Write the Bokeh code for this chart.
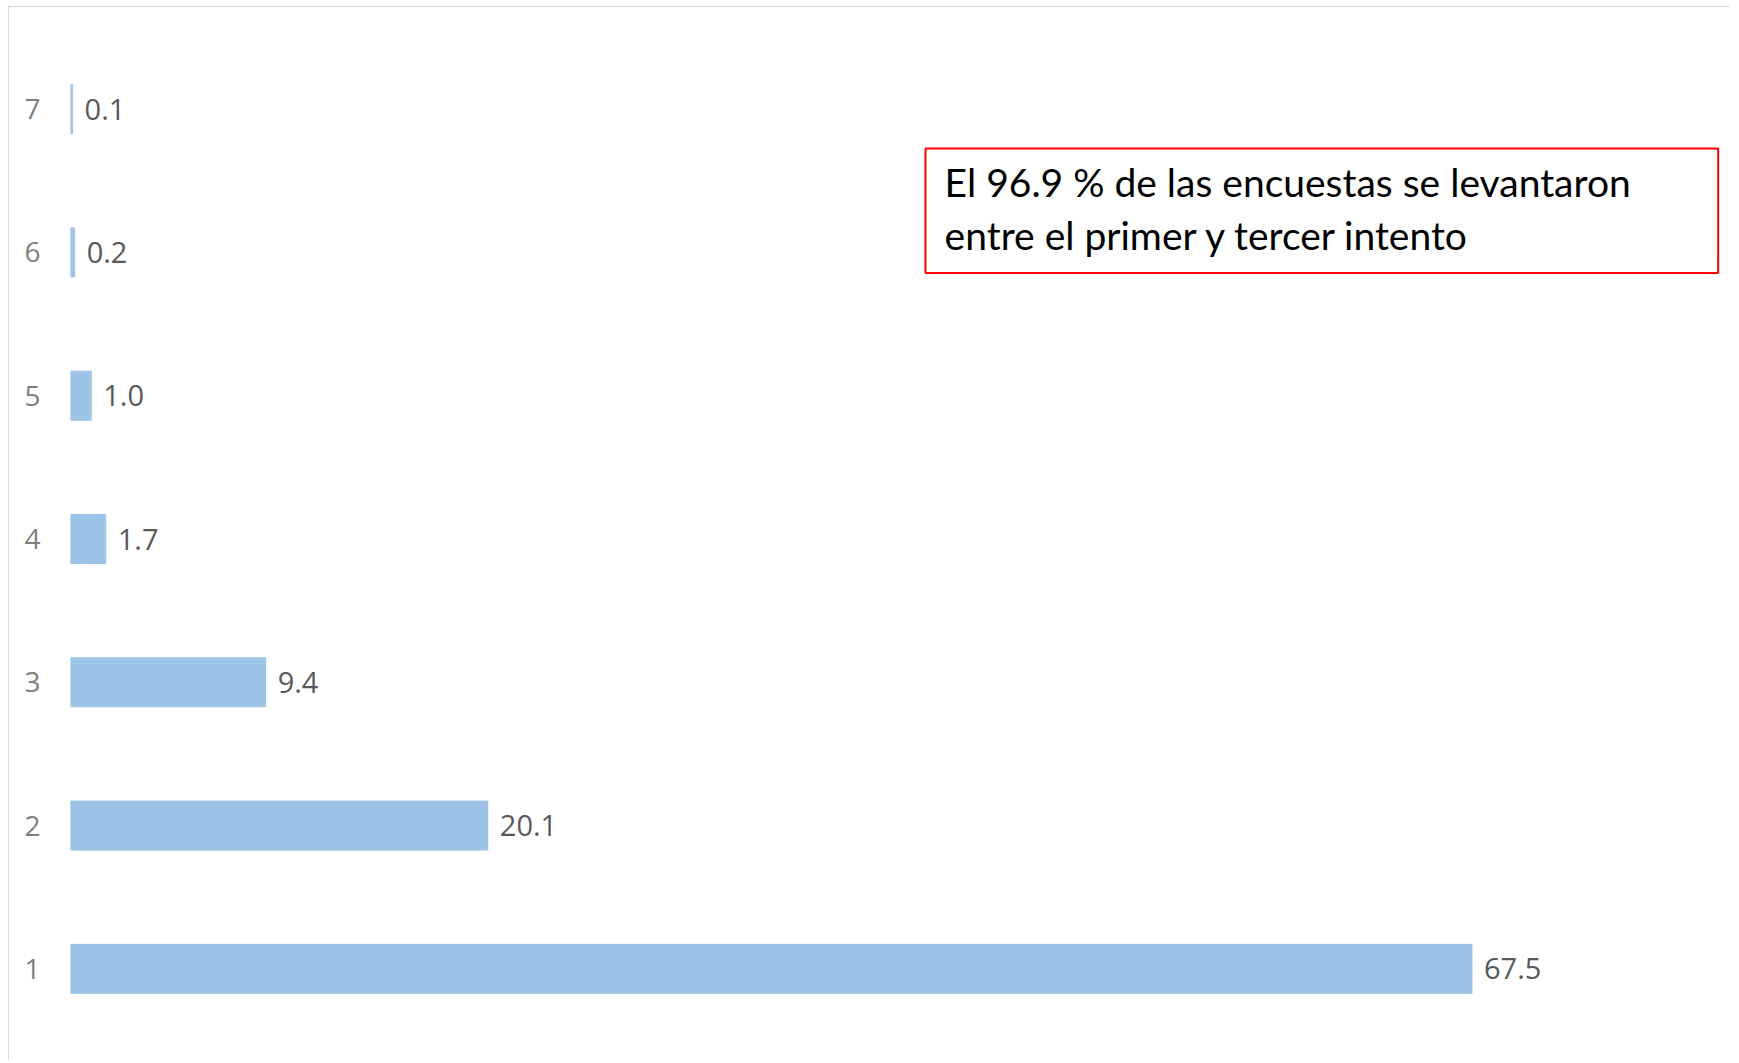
from bokeh.plotting import figure
from bokeh.models import Range1d, FixedTicker, ColumnDataSource, LabelSet, Label, BoxAnnotation
from bokeh.core.properties import value
from bokeh.embed import file_html
from bokeh.resources import INLINE

# data
intentos = [1, 2, 3, 4, 5, 6, 7]
porcentajes = [67.5, 20.1, 9.4, 1.7, 1.0, 0.2, 0.1]
etiquetas = ["67.5", "20.1", "9.4", "1.7", "1.0", "0.2", "0.1"]
tick_labels = {1: "1", 2: "2", 3: "3", 4: "4", 5: "5", 6: "6", 7: "7"}
nota = ["El 96.9 % de las encuestas se levantaron", "entre el primer y tercer intento"]

BAR = "#9dc3e6"

p = figure(width=1722, height=1054, output_backend="svg", toolbar_location=None,
           x_range=Range1d(0, 80), y_range=Range1d(0.5, 7.5),
           min_border_left=61, min_border_top=30, min_border_bottom=21, min_border_right=0)
p.styles = {"margin-left": "7.5px", "margin-top": "6px",
            "border-left": "1.5px solid #d9d9d9", "border-top": "1.5px solid #d9d9d9"}
p.outline_line_color = None
p.xgrid.visible = False
p.ygrid.visible = False
p.xaxis.visible = False

src = ColumnDataSource(dict(y=intentos, x=porcentajes, lab=etiquetas))
p.hbar(y="y", right="x", left=0, height=0.342, source=src, fill_color=BAR, line_color=BAR, line_width=1)

labels = LabelSet(x="x", y="y", text="lab", source=src, x_offset=12, y_offset=0,
                  text_baseline="middle", text_align="left", text_font=value("Open Sans"),
                  text_font_size=value("29px"), text_color=value("#595959"))
p.add_layout(labels)

ya = p.yaxis[0]
ya.ticker = FixedTicker(ticks=intentos)
ya.major_label_overrides = tick_labels
ya.axis_line_color = None
ya.major_tick_line_color = None
ya.minor_tick_line_color = None
ya.major_tick_out = 0
ya.major_tick_in = 0
ya.major_label_standoff = 30
ya.major_label_text_font = "Open Sans"
ya.major_label_text_font_size = "28px"
ya.major_label_text_color = "#7f7f7f"

box = BoxAnnotation(left=41.18, right=79.36, top=6.725, bottom=5.856,
                    fill_color="white", fill_alpha=1.0, line_color="#ff0000",
                    line_alpha=1.0, line_width=2)
p.add_layout(box)

for txt, yb in zip(nota, [6.495, 6.125]):
    p.add_layout(Label(x=42.1, y=yb, text=txt, text_font="Lato", text_font_size="39px",
                       text_color="#000000", text_baseline="alphabetic", text_align="left"))

open("out.html", "w").write(file_html(p, INLINE))
